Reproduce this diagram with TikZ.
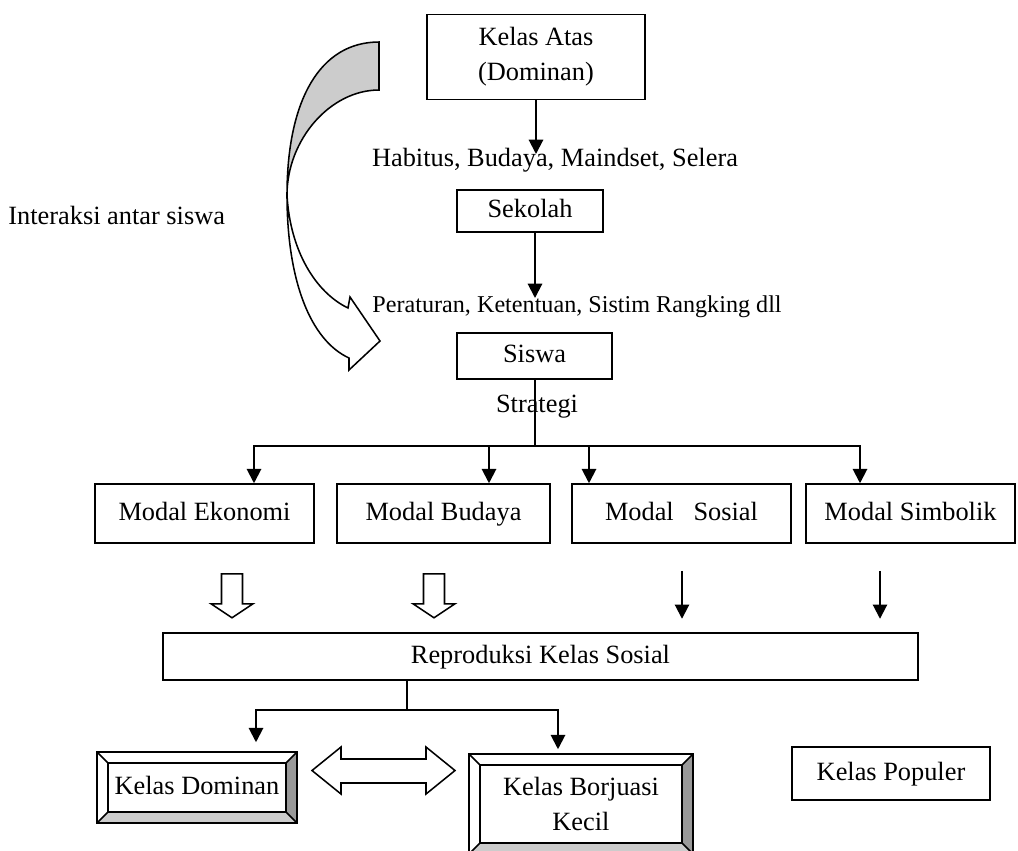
\documentclass[tikz,border=0pt]{standalone}
\usepackage{fontspec}
\setmainfont{Liberation Serif}
\usetikzlibrary{arrows.meta,calc}
\newcommand{\pxl}{0.016cm}

\begin{document}
\begin{tikzpicture}[x=0.016cm,y=-0.016cm,font=\fontsize{12}{16}\selectfont]
	\tikzstyle{box}=[draw,line width=0.7pt,align=center,inner sep=2pt]
	\tikzstyle{onebox}=[box,text height=8.5pt,text depth=2.5pt]
	\tikzstyle{bevelbox}=[box,path picture={
		\coordinate (bnw) at (path picture bounding box.north west);
		\coordinate (bse) at (path picture bounding box.south east);
		\coordinate (bne) at (bnw-|bse);
		\coordinate (bsw) at (bnw|-bse);
		\fill[gray!80] (bne) -- (bse) -- ([shift={(-11,-11)}]bse) -- ([shift={(-11,11)}]bne) -- cycle;
		\fill[gray!40] (bsw) -- (bse) -- ([shift={(-11,-11)}]bse) -- ([shift={(11,-11)}]bsw) -- cycle;
		\draw[line width=0.7pt] ([shift={(11,11)}]bnw) rectangle ([shift={(-11,-11)}]bse);
		\draw[line width=0.7pt] (bnw) -- ++(11,11) (bse) -- ++(-11,-11) (bne) -- ++(-11,11) (bsw) -- ++(11,-11);
	}]
	\tikzstyle{arr}=[line width=0.9pt,-{Triangle[length=6.5pt,width=6.5pt]}]
	\tikzstyle{hollow}=[draw,line width=0.7pt,fill=white]

	\useasboundingbox (0,0) rectangle (1018,850);

	\draw[line width=0.7pt,fill=gray!40] (379,42) .. controls (320,42) and (287,100) .. (287,195) .. controls (287,140) and (330,90) .. (379,90) -- cycle;
	\draw[line width=0.7pt,fill=white] (287,195) .. controls (287,280) and (310,340) .. (349,358) -- (349,370) -- (380,341) -- (350,297) -- (348,308) .. controls (315,292) and (290,250) .. (287,195) -- cycle;
	\node [anchor=west,inner sep=0pt] (interaksi) at (8,215) {Interaksi antar siswa};

	\node [box,minimum width=218*\pxl,minimum height=85*\pxl] (atas) at (536,57) {Kelas Atas\\(Dominan)};
	\node (habitus) at (555,160) {Habitus, Budaya, Maindset, Selera};
	\node [onebox,minimum width=146*\pxl,minimum height=42*\pxl] (sekolah) at (530,211) {Sekolah};
	\node [anchor=west,inner sep=0pt,font=\fontsize{11}{13}\selectfont] (aturan) at (372,307) {Peraturan, Ketentuan, Sistim Rangking dll};
	\node [onebox,minimum width=155*\pxl,minimum height=46*\pxl] (siswa) at (534.5,356) {Siswa};
	\node (strategi) at (537,407) {Strategi};

	\node [onebox,minimum width=219*\pxl,minimum height=59*\pxl] (ekonomi) at (204.5,513.5) {Modal Ekonomi};
	\node [onebox,minimum width=213*\pxl,minimum height=59*\pxl] (budaya) at (443.5,513.5) {Modal Budaya};
	\node [onebox,minimum width=219*\pxl,minimum height=59*\pxl] (sosial) at (681.5,513.5) {Modal\ \ \ Sosial};
	\node [onebox,minimum width=209*\pxl,minimum height=59*\pxl] (simbolik) at (910.5,513.5) {Modal Simbolik};

	\node [onebox,minimum width=755*\pxl,minimum height=47*\pxl] (reproduksi) at (540.5,656.5) {Reproduksi Kelas Sosial};

	\node [bevelbox,text height=8.5pt,text depth=2.5pt,minimum width=200*\pxl,minimum height=71*\pxl] (dominan) at (197,787.5) {Kelas Dominan};
	\node [bevelbox,minimum width=224*\pxl,minimum height=100*\pxl] (borjuasi) at (581,804) {Kelas Borjuasi\\Kecil};
	\node [onebox,minimum width=198*\pxl,minimum height=53*\pxl] (populer) at (891,773.5) {Kelas Populer};

	\coordinate (habtop) at (536,154);
	\coordinate (aturtop) at (535,298);
	\coordinate (bagi) at (535,446);
	\coordinate (bagi2) at (407,710);

	\draw[arr] (atas.south) -- (habtop);
	\draw[arr] (sekolah.south-|aturtop) -- (aturtop);
	\draw[line width=0.9pt] (siswa.south-|bagi) -- (bagi);
	\foreach \m/\dx in {ekonomi/49.5,budaya/45.5,sosial/-92.5,simbolik/-50.5}
		\draw[arr] (bagi) -| ($(\m.north)+(\dx,0)$);

	\foreach \m/\dx in {ekonomi/27.5,budaya/-9.5}
		\draw[hollow] ($(\m.south)+(\dx,30)$) -- ++(-10.5,0) -- ++(0,30) -- ++(-10.5,0) -- ++(21,14) -- ++(21,-14) -- ++(-10.5,0) -- ++(0,-30) -- cycle;
	\draw[arr] ($(sosial.south)+(0.5,27)$) -- ++(0,48);
	\draw[arr] ($(simbolik.south)+(-30.5,27)$) -- ++(0,48);

	\draw[line width=0.9pt] ($(reproduksi.south)+(-133.5,0)$) -- (bagi2);
	\draw[arr] (bagi2) -| ($(dominan.north)+(59,-9)$);
	\draw[arr] (bagi2) -| ($(borjuasi.north)+(-23,-4)$);

	\draw[hollow] (312,770.5) -- (341,747) -- (341,759) -- (426,759) -- (426,747) -- (455,770.5) -- (426,794) -- (426,783) -- (341,783) -- (341,794) -- cycle;
\end{tikzpicture}
\end{document}
